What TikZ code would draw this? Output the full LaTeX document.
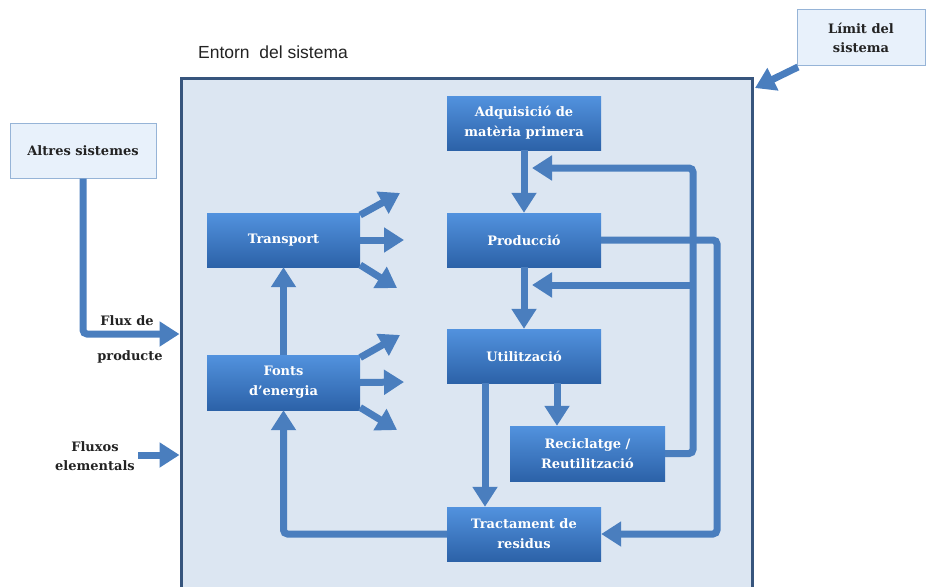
\documentclass[tikz,border=0pt]{standalone}
\usepackage{fontspec}
\setmainfont{DejaVu Serif}
\setsansfont{Liberation Sans}
\usetikzlibrary{arrows.meta,calc}

\definecolor{flowc}{RGB}{74,126,190}
\definecolor{boxtop}{RGB}{82,146,222}
\definecolor{boxbot}{RGB}{44,98,168}
\definecolor{sysfill}{RGB}{220,230,242}
\definecolor{sysdraw}{RGB}{55,85,125}
\definecolor{lightfill}{RGB}{232,241,251}
\definecolor{lightdraw}{RGB}{150,180,215}
\definecolor{textdark}{RGB}{35,35,35}

\begin{document}
\begin{tikzpicture}[x=1pt,y=-1pt,
  proc/.style={top color=boxtop, bottom color=boxbot, draw=none, text=white,
    font=\bfseries\fontsize{13}{20}\selectfont, align=center,
    minimum width=154pt, minimum height=54pt, inner sep=0pt},
  infobox/.style={fill=lightfill, draw=lightdraw, line width=1pt, text=textdark,
    font=\bfseries\fontsize{13}{19}\selectfont, align=center, inner sep=0pt},
  lbl/.style={text=textdark, font=\bfseries\fontsize{13}{19}\selectfont, align=center, inner sep=0pt},
  flow/.style={draw=flowc, line width=7pt, rounded corners=4pt,
    -{Triangle[width=24pt,length=20pt]}}
]
\useasboundingbox (0,0) rectangle (933,586);

% system boundary
\node[fill=sysfill, draw=sysdraw, line width=3pt, minimum width=571pt,
      minimum height=512pt, inner sep=0pt] (sys) at (466.5,334) {};
\node[font=\sffamily\fontsize{17.5}{20}\selectfont, text=textdark, inner sep=0pt]
  (entorn) at (273,52) {Entorn\ \ del sistema};

% external boxes
\node[infobox, minimum width=146pt, minimum height=55pt] (altres) at (83,150.5) {Altres sistemes};
\node[infobox, minimum width=128pt, minimum height=55pt] (limit) at (861,37.5) {Límit del\\sistema};

% process boxes
\node[proc] (adq)   at (524,123)   {Adquisició de\\matèria primera};
\node[proc] (prod)  at (524,240)   {Producció};
\node[proc] (util)  at (524,356)   {Utilització};
\node[proc, minimum width=155pt, minimum height=55pt] (recic) at (587.5,453.5) {Reciclatge /\\Reutilització};
\node[proc] (tract) at (524,534)   {Tractament de\\residus};
\node[proc, minimum width=153pt] (transp) at (283.5,240) {Transport};
\node[proc, minimum width=153pt, minimum height=55pt] (fonts) at (283.5,382.5) {Fonts\\d'energia};

% side labels
\node[lbl] (fluxa) at (127,321) {Flux de};
\node[lbl] (fluxb) at (130,357) {producte};
\node[lbl] (fluxe) at (95,456) {Fluxos\\elementals};

% inputs to the system
\draw[flow] (altres.south) |- (sys.west);
\coordinate (fe) at (138,455);
\draw[flow] (fe) -- (fe -| sys.west);
\coordinate (lstart) at (798,67);
\coordinate (lend) at (755,88);
\draw[flow] (lstart) -- (lend);

% main chain
\draw[flow] (adq.south) -- (prod.north);
\draw[flow] (prod.south) -- (util.north);
\draw[flow] ([xshift=33pt]util.south) -- ([xshift=-30.5pt]recic.north);
\draw[flow] ([xshift=-39pt]util.south) -- ([xshift=-39pt]tract.north);

% recycling loop
\coordinate (rt) at (693,168);
\coordinate (rtend) at (532,168);
\coordinate (rm) at (693,285);
\coordinate (rmend) at (532,285);
\draw[flow] (recic.east) -| (rt) -- (rtend);
\draw[flow, rounded corners=0pt] (rm) -- (rmend);

% production waste
\coordinate (pw) at (717,240);
\draw[flow] (prod.east) -- (pw) |- (tract.east);

% energy loop
\draw[flow] (tract.west) -| (fonts.south);
\draw[flow] (fonts.north) -- (transp.south);

% transport outputs
\coordinate (t1) at (400,193);
\coordinate (t2) at (404,240);
\coordinate (t3) at (397,288);
\draw[flow] ([yshift=25pt]transp.east) -- (t1);
\draw[flow] (transp.east) -- (t2);
\draw[flow] ([yshift=-25pt]transp.east) -- (t3);

% energy outputs
\coordinate (f1) at (400,335);
\coordinate (f2) at (404,382);
\coordinate (f3) at (397,430);
\draw[flow] ([yshift=25pt]fonts.east) -- (f1);
\draw[flow] (fonts.east) -- (f2);
\draw[flow] ([yshift=-25pt]fonts.east) -- (f3);
\end{tikzpicture}
\end{document}
